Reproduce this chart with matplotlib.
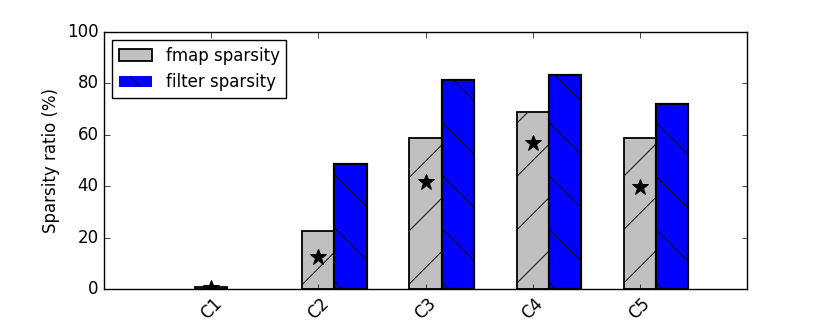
import matplotlib
matplotlib.use('Agg')
from matplotlib import pyplot as plt
import numpy as np

plt.style.use('classic')

layers = ['C1', 'C2', 'C3', 'C4', 'C5']
fmap_sparsity = [0.8, 22.7, 58.7, 69.0, 58.7]
filter_sparsity = [0.0, 48.6, 81.3, 83.3, 72.1]
star_values = [0.2, 12.6, 41.8, 56.7, 39.7]

# render at a higher dpi so the hatch spacing comes out wider; sizes given in pixels
DPI = 160
def px(v):
    return v * 72.0 / DPI

plt.rcParams['font.size'] = px(16.7)
plt.rcParams['axes.linewidth'] = px(1.4)
plt.rcParams['xtick.major.size'] = px(5.5)
plt.rcParams['ytick.major.size'] = px(5.5)
plt.rcParams['xtick.major.width'] = px(0.7)
plt.rcParams['ytick.major.width'] = px(0.7)
plt.rcParams['xtick.major.pad'] = px(5.5)
plt.rcParams['ytick.major.pad'] = px(5.5)
plt.rcParams['axes.labelpad'] = px(7)
plt.rcParams['hatch.linewidth'] = px(0.9)
plt.rcParams['patch.linewidth'] = px(1.4)

x = np.arange(1, len(layers) + 1)
w = 0.3

fig = plt.figure(figsize=(830 / DPI, 322 / DPI), dpi=DPI)
ax = fig.add_axes([104/830, 33/322, 643/830, 257/322])

ax.bar(x, fmap_sparsity, w, align='center', color='#c0c0c0', edgecolor='k',
       linewidth=px(1.8), hatch='/', label='fmap sparsity')
blue = ax.bar(x + w, filter_sparsity, w, align='center', color='#0000ff', edgecolor='k',
              linewidth=px(2.2), hatch='\\', label='filter sparsity')
blue[0].set_linewidth(0)
ax.plot(x, star_values, '*', color='k', markersize=px(17), markeredgewidth=px(1))

ax.set_xlim(0, 6)
ax.set_ylim(0, 100)
ax.set_xticks(x)
ax.set_xticklabels(layers, rotation=45)
ax.set_ylabel('Sparsity ratio (%)')
ax.legend(loc='upper left', fontsize=px(16.7))

fig.savefig('out.png', dpi=DPI)
